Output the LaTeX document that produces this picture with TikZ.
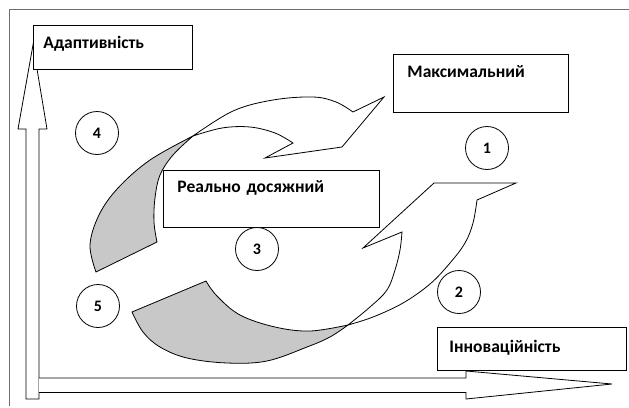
\documentclass[tikz,border=0pt]{standalone}
\usepackage{fontspec}
\setmainfont{Carlito}
\begin{document}
\begin{tikzpicture}[x=1pt,y=-1pt,
  line/.style={draw=black, line width=0.8pt, line join=miter},
  ribbon/.style={line, fill=white},
  shade/.style={line, fill=greyfill},
  axisarrow/.style={line, fill=white},
  labelbox/.style={draw=black, line width=0.9pt, fill=white, anchor=north west,
    inner ysep=0pt, align=left, font=\fontsize{17.5}{17.5}\selectfont\bfseries},
  numcircle/.style={circle, draw=black, line width=0.8pt, fill=white,
    minimum size=43pt, inner sep=0pt, font=\fontsize{16}{16}\selectfont\bfseries}
]
\definecolor{greyfill}{RGB}{200,200,200}
\definecolor{framegrey}{RGB}{110,110,110}
\useasboundingbox (0,0) rectangle (629,407);

% frame
\draw[draw=framegrey, line width=1pt] (9.5,406) -- (9.5,9.5) -- (629,9.5);

% vertical axis arrow
\path[axisarrow] (26,399) -- (26,129) -- (18,129) -- (33,45) -- (47,129) -- (39,129) -- (39,399) -- cycle;
% horizontal axis arrow
\path[axisarrow] (39,378) -- (466,378) -- (466,371) -- (612,384) -- (466,399) -- (466,392.5) -- (39,392.5);

% upper ribbon arrow: shaded tail
\path[shade] (193,136)
  -- plot[smooth, tension=0.6] coordinates {(193,136) (150,160) (118,188) (99,215) (90,245) (96,272)}
  -- (157,242)
  -- plot[smooth, tension=0.6] coordinates {(157,242) (154,222) (155,198) (160,175) (173,155) (193,136)}
  -- cycle;
% upper ribbon arrow: white body and head
\path[ribbon] (193,136)
  -- plot[smooth, tension=0.6] coordinates {(193,136) (233,111) (273,100) (313,97) (336,102) (353,112)}
  -- (384,97) -- (342,147) -- (265,158) -- (293,143)
  -- plot[smooth, tension=0.6] coordinates {(293,143) (275,133) (250,127) (222,128) (193,136)}
  -- cycle;

% lower ribbon arrow: shaded tail
\path[shade] (132,312) -- (206,281)
  -- plot[smooth, tension=0.6] coordinates {(206,281) (217,296) (240,315) (275,327) (310,331) (348,325)}
  -- plot[smooth, tension=0.6] coordinates {(348,325) (330,337) (307,347) (267,361) (227,363) (187,358) (160,347) (143,332) (132,312)}
  -- cycle;
% lower ribbon arrow: white body and head
\path[ribbon] (348,325)
  -- plot[smooth, tension=0.6] coordinates {(348,325) (373,317) (403,303) (430,284) (450,263) (465,243) (473,223) (477,200)}
  -- (516,183) -- (434,183) -- (363,248) -- (402,232)
  -- plot[smooth, tension=0.6] coordinates {(402,232) (400,250) (395,270) (387,290) (370,307) (348,325)}
  -- cycle;

% label boxes
\node[labelbox, minimum width=159pt, minimum height=44pt, text width=139pt, inner xsep=10pt,
  text height=23pt, text depth=21pt] (adapt) at (33,25) {Адаптивність};
\node[labelbox, minimum width=175pt, minimum height=58pt, text width=147pt, inner xsep=14pt,
  text height=23pt, text depth=35pt] (maxim) at (393,54) {Максимальний};
\node[labelbox, minimum width=216pt, minimum height=57pt, text width=188pt, inner xsep=14pt,
  text height=22pt, text depth=35pt] (real) at (163,170) {Реально досяжний};
\node[labelbox, minimum width=189pt, minimum height=43pt, text width=165pt, inner xsep=12pt,
  text height=25pt, text depth=18pt] (innov) at (437,327) {Інноваційність};

% numbered circles
\node[numcircle] (n1) at (487,148) {1};
\node[numcircle] (n2) at (459,292) {2};
\node[numcircle] (n3) at (257,249) {3};
\node[numcircle] (n4) at (97,133) {4};
\node[numcircle] (n5) at (98,306) {5};
\end{tikzpicture}
\end{document}
